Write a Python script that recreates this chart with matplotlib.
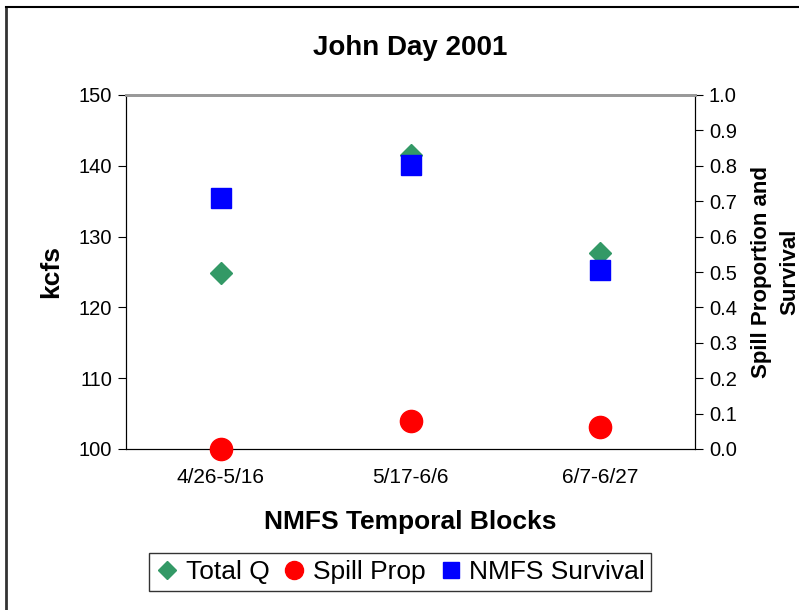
import matplotlib.pyplot as plt
from matplotlib.lines import Line2D

plt.rcParams['font.family'] = ['Liberation Sans', 'DejaVu Sans']

blocks = ['4/26-5/16', '5/17-6/6', '6/7-6/27']
total_q = [124.9, 141.5, 127.7]        # kcfs, left axis
spill_prop = [0.0, 0.079, 0.061]       # right axis
nmfs_survival = [0.71, 0.801, 0.507]   # right axis

fig = plt.figure(figsize=(7.99, 6.10), dpi=100)

# outer frame (left and top only visible)
fig.add_artist(Line2D([6 / 799, 6 / 799], [0, 1 - 7 / 610], color='#333333', lw=2))
fig.add_artist(Line2D([6 / 799, 1], [1 - 7 / 610, 1 - 7 / 610], color='black', lw=1.5))

ax = fig.add_axes([126 / 799, 1 - 449 / 610, (695 - 126) / 799, (449 - 95) / 610])
ax2 = ax.twinx()

x = range(len(blocks))
ax.plot(x, total_q, linestyle='none', marker='D', markersize=11,
        color='#339966', label='Total Q', zorder=3)
ax2.plot(x, spill_prop, linestyle='none', marker='o', markersize=16,
         color='#FF0000', label='Spill Prop', zorder=3, clip_on=False)
ax2.plot(x, nmfs_survival, linestyle='none', marker='s', markersize=15,
         color='#0000FF', label='NMFS Survival', zorder=3)

ax.set_xlim(-0.5, len(blocks) - 0.5)
ax.set_ylim(100, 150)
ax.set_yticks(range(100, 151, 10))
ax2.set_ylim(0, 1.0)
ax2.set_yticks([i / 10 for i in range(11)])
ax2.set_yticklabels([f'{i / 10:.1f}' for i in range(11)])

ax.set_xticks(list(x))
ax.set_xticklabels(blocks)
ax.tick_params(axis='x', length=0, pad=14, labelsize=15)
ax.tick_params(axis='y', direction='out', length=6, labelsize=14.5, pad=4)
ax2.tick_params(axis='y', direction='out', length=6, labelsize=14.5, pad=4)

for a in (ax, ax2):
    a.spines['top'].set_color('#999999')
    a.spines['top'].set_linewidth(2)
    a.spines['left'].set_color('black')
    a.spines['right'].set_color('black')
    a.spines['bottom'].set_color('black')

ax.set_title('John Day 2001', fontsize=20, fontweight='bold', pad=29)
ax.set_ylabel('kcfs', fontsize=19, fontweight='bold', labelpad=11)
ax.set_xlabel('NMFS Temporal Blocks', fontsize=19, fontweight='bold', labelpad=16)
ax2.set_ylabel('Spill Proportion and\nSurvival', fontsize=16, fontweight='bold',
               rotation=90, labelpad=10, linespacing=1.45)

handles = ax.get_lines() + ax2.get_lines()
handles = [Line2D([], [], linestyle='none', marker=h.get_marker(),
                  color=h.get_color(), markersize={'D': 9, 'o': 13, 's': 12}[h.get_marker()])
           for h in handles]
labels = ['Total Q', 'Spill Prop', 'NMFS Survival']
leg = fig.legend(handles, labels, loc='center', bbox_to_anchor=(400 / 799, 1 - 572 / 610),
                 ncol=3, fontsize=19, frameon=True, fancybox=False, edgecolor='black',
                 handletextpad=0.25, columnspacing=0.5, handlelength=0.9, borderpad=0.25)
leg.get_frame().set_linewidth(1)

fig.savefig('out.png', dpi=100)
